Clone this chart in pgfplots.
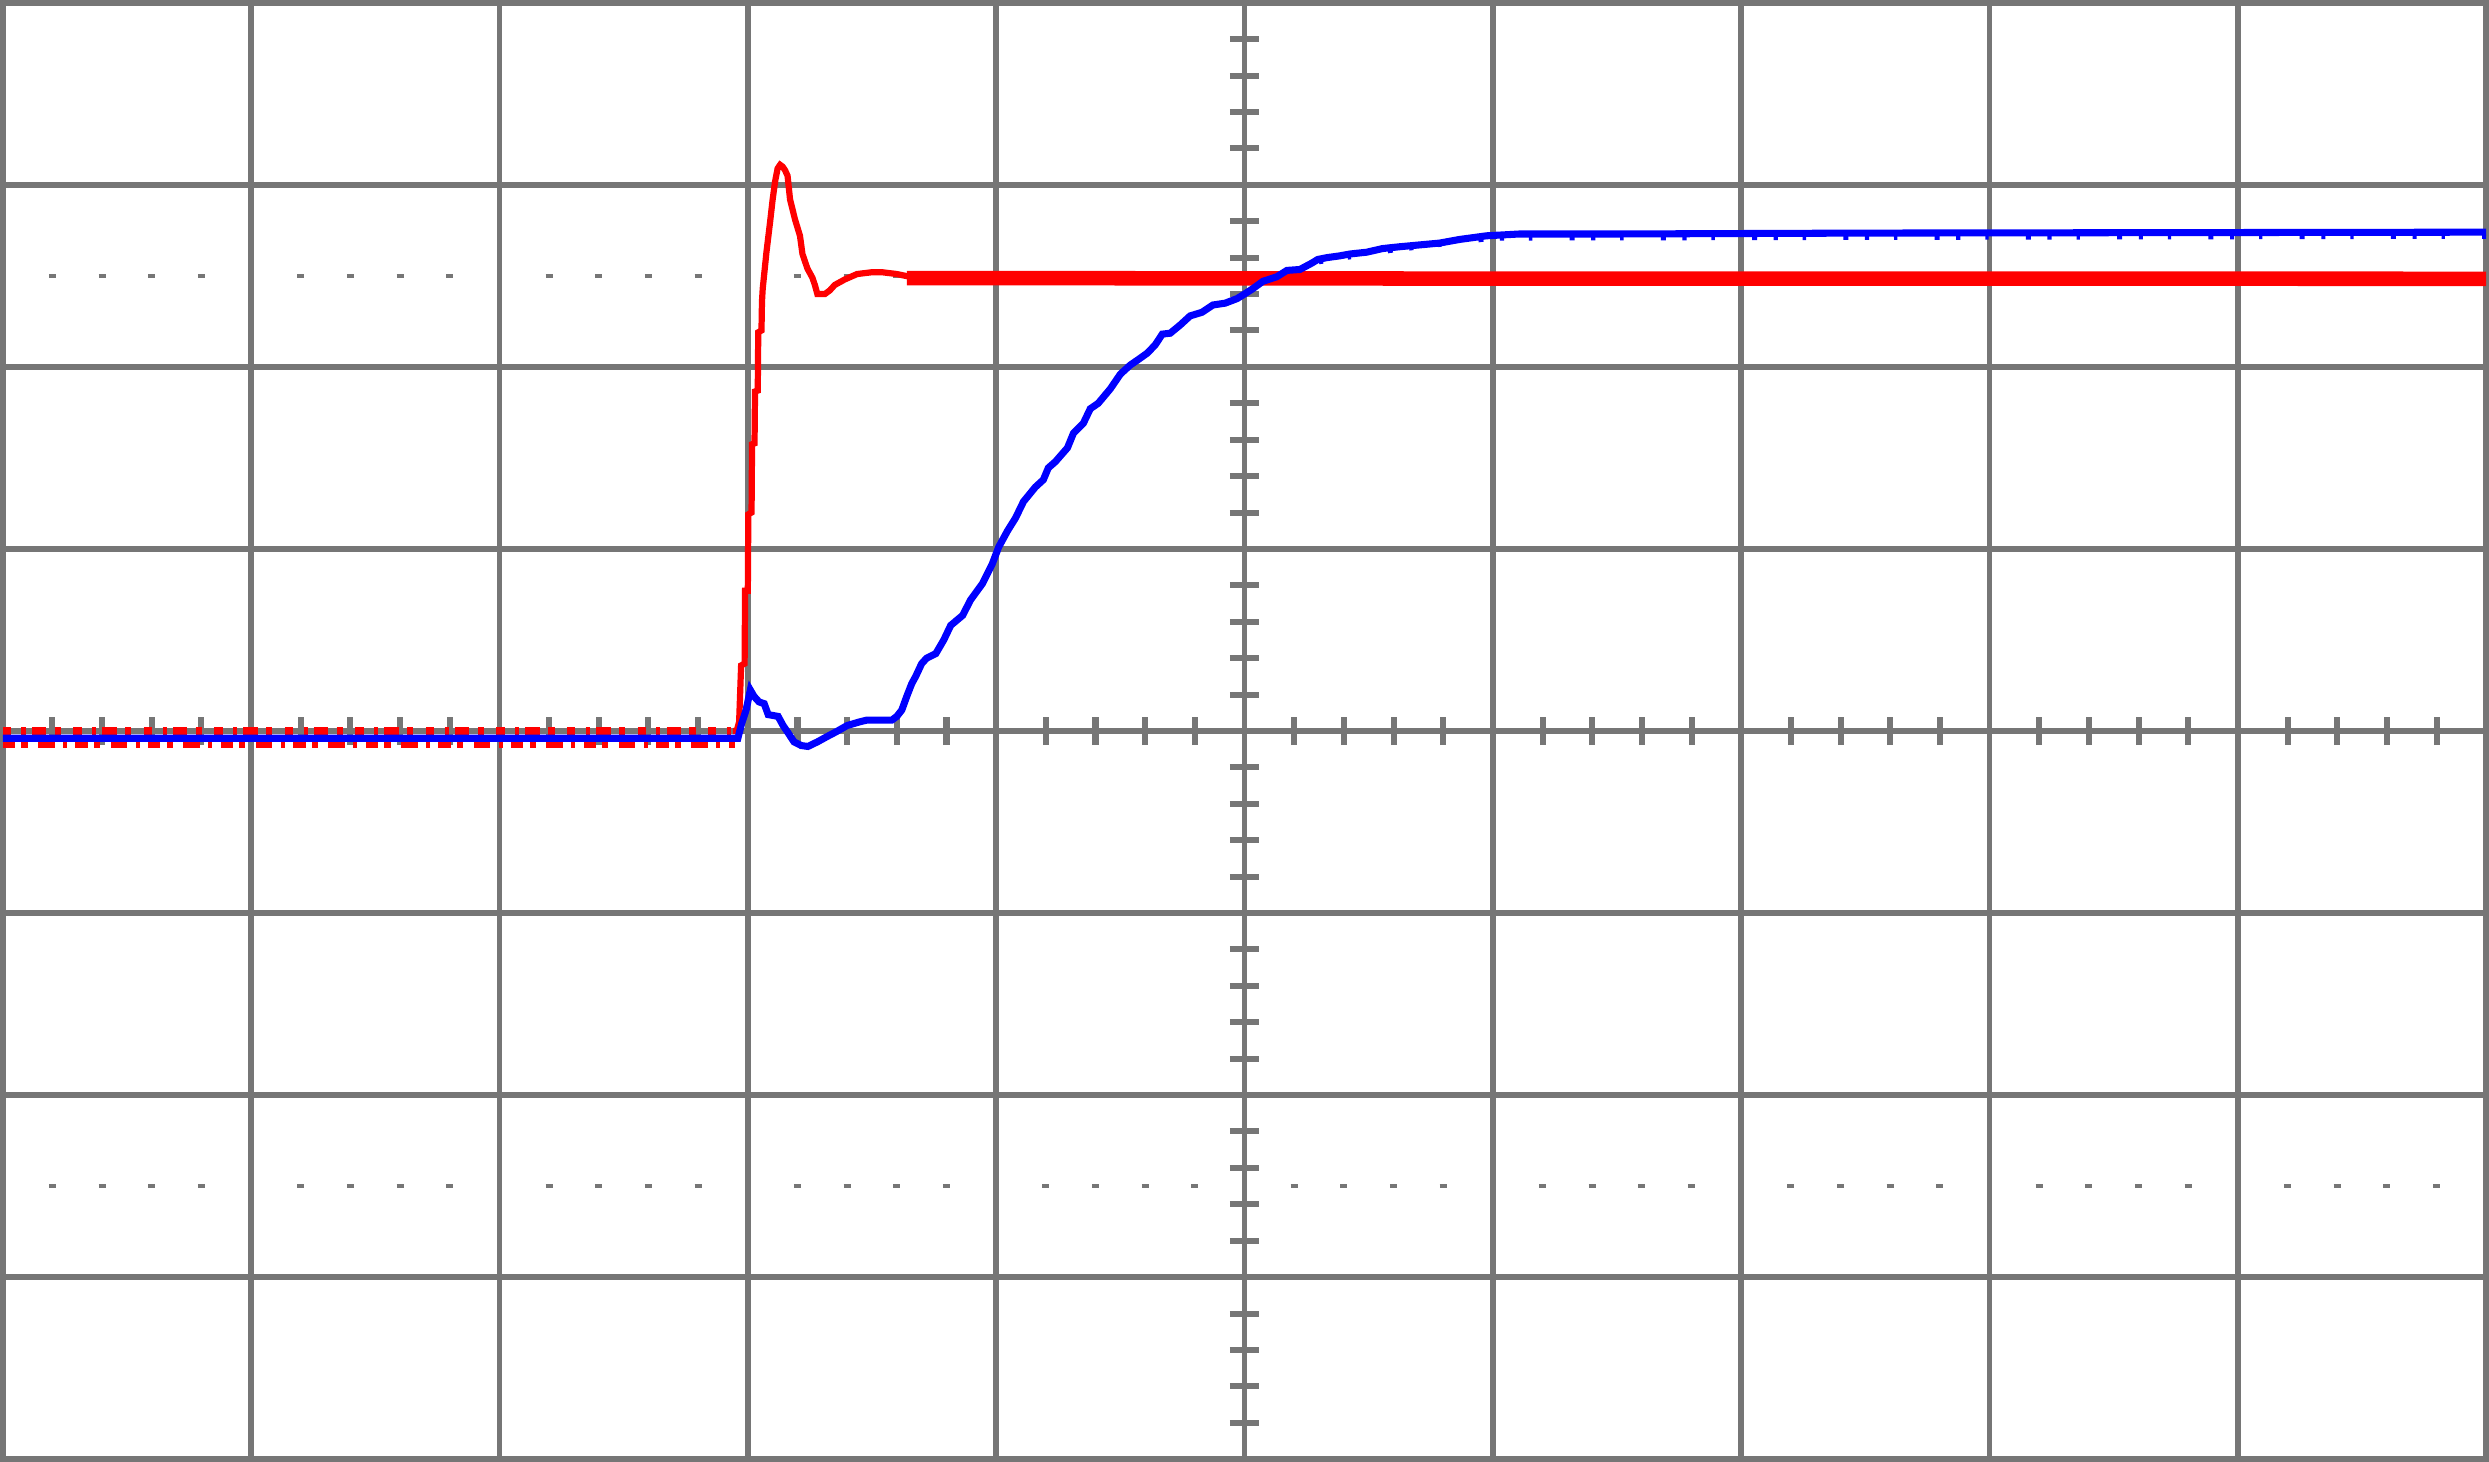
\documentclass[border=0pt]{standalone}
\usepackage{pgfplots}
\pgfplotsset{compat=1.18}
\definecolor{grat}{RGB}{118,118,118}
\definecolor{trred}{RGB}{255,0,0}
\definecolor{trblue}{RGB}{0,0,255}

\begin{document}
\begin{tikzpicture}
\begin{axis}[scale only axis, width=598.65pt, height=351.08pt,
    xmin=-5, xmax=5, ymin=-4, ymax=4,
    xtick={-4,...,4}, ytick={-3,...,3},
    xticklabels={}, yticklabels={}, tick style={draw=none},
    axis line style={grat, line width=1.35pt},
    grid=major, grid style={grat, line width=1.35pt}]
\coordinate (sw) at (rel axis cs:0,0);
\coordinate (ne) at (rel axis cs:1,1);
% graticule: centre lines, minor ticks, dotted levels
\draw[grat, line width=1.35pt] (-5,0) -- (5,0);
\draw[grat, line width=1.35pt] (0,-4) -- (0,4);
\pgfplotsinvokeforeach{-4.8,-4.6,-4.4,-4.2,-3.8,-3.6,-3.4,-3.2,-2.8,-2.6,-2.4,-2.2,-1.8,-1.6,-1.4,-1.2,-0.8,-0.6,-0.4,-0.2,0.2,0.4,0.6,0.8,1.2,1.4,1.6,1.8,2.2,2.4,2.6,2.8,3.2,3.4,3.6,3.8,4.2,4.4,4.6,4.8}{
  \draw[grat, line width=1.45pt] ([yshift=-3.4pt]#1,0) -- ([yshift=3.4pt]#1,0);
  \draw[grat, line width=1pt] ([xshift=-0.85pt]#1,2.5) -- ([xshift=0.85pt]#1,2.5);
  \draw[grat, line width=1pt] ([xshift=-0.85pt]#1,-2.5) -- ([xshift=0.85pt]#1,-2.5);
}
\pgfplotsinvokeforeach{-3.8,-3.6,-3.4,-3.2,-2.8,-2.6,-2.4,-2.2,-1.8,-1.6,-1.4,-1.2,-0.8,-0.6,-0.4,-0.2,0.2,0.4,0.6,0.8,1.2,1.4,1.6,1.8,2.2,2.4,2.6,2.8,3.2,3.4,3.6,3.8}{
  \draw[grat, line width=1.45pt] ([xshift=-3.5pt]0,#1) -- ([xshift=3.5pt]0,#1);
}

% red trace: noisy baseline, step, settled level
\addplot[trred, line width=1.8pt, mark=none, dash pattern=on 2pt off 2.5pt on 1pt off 1.5pt on 3.5pt off 2pt on 1.5pt off 3pt]
  coordinates {(-5,0.0)(-2.05,0.0)};
\addplot[trred, line width=1.7pt, mark=none, dash pattern=on 3pt off 1.5pt on 1.5pt off 2.5pt on 4pt off 2pt on 1pt off 2pt]
  coordinates {(-5,-0.074)(-2.05,-0.074)};
\addplot[trred, line width=1.5pt, mark=none] coordinates {
(-2.06,0.0)(-2.045,0.0)(-2.035,0.05)(-2.027,0.36)(-2.013,0.37)(-2.011,0.77)(-2.000,0.77)
(-1.998,1.19)(-1.985,1.20)(-1.983,1.575)(-1.973,1.58)(-1.971,1.865)(-1.960,1.87)
(-1.958,2.19)(-1.945,2.20)(-1.943,2.36)(-1.94,2.43)(-1.925,2.63)(-1.91,2.80)(-1.90,2.92)
(-1.89,3.02)(-1.88,3.09)(-1.87,3.11)(-1.86,3.10)(-1.85,3.08)(-1.84,3.05)(-1.83,2.92)
(-1.81,2.81)(-1.79,2.72)(-1.78,2.62)(-1.76,2.54)(-1.74,2.49)(-1.73,2.45)(-1.72,2.40)
(-1.69,2.40)(-1.67,2.42)(-1.65,2.45)(-1.61,2.48)(-1.56,2.51)(-1.50,2.52)(-1.46,2.52)
(-1.40,2.51)(-1.33,2.49)(-1.20,2.485)};
\addplot[trred, line width=3.5pt, mark=none] coordinates {(-1.36,2.488)(1,2.485)(5,2.484)};

% blue trace
\addplot[trblue, line width=1.7pt, mark=none] coordinates {
(-5,-0.04)(-2.04,-0.04)(-2.025,0.04)(-2.007,0.115)(-1.99,0.225)(-1.975,0.19)(-1.955,0.16)
(-1.934,0.15)(-1.918,0.09)(-1.878,0.08)(-1.858,0.03)(-1.838,-0.01)(-1.814,-0.06)
(-1.785,-0.08)(-1.758,-0.085)(-1.72,-0.06)(-1.68,-0.03)(-1.645,-0.005)(-1.60,0.03)
(-1.55,0.05)(-1.52,0.06)(-1.42,0.06)(-1.40,0.08)(-1.38,0.115)(-1.36,0.19)(-1.34,0.26)
(-1.324,0.30)(-1.30,0.37)(-1.28,0.40)(-1.243,0.425)(-1.211,0.50)(-1.183,0.58)
(-1.135,0.635)(-1.103,0.72)(-1.055,0.81)(-1.015,0.92)(-0.990,1.01)(-0.954,1.10)
(-0.922,1.17)(-0.890,1.26)(-0.842,1.34)(-0.810,1.38)(-0.790,1.445)(-0.761,1.48)
(-0.713,1.555)(-0.689,1.635)(-0.649,1.69)(-0.621,1.77)(-0.589,1.80)(-0.540,1.88)
(-0.500,1.96)(-0.460,2.01)(-0.428,2.04)(-0.392,2.075)(-0.360,2.12)(-0.331,2.18)
(-0.299,2.185)(-0.259,2.23)(-0.219,2.28)(-0.171,2.30)(-0.127,2.34)(-0.078,2.35)
(-0.030,2.375)(0.0,2.40)(0.034,2.43)(0.074,2.47)(0.130,2.495)(0.171,2.53)(0.223,2.535)
(0.271,2.57)(0.295,2.59)(0.331,2.60)(0.384,2.61)(0.424,2.62)(0.492,2.63)(0.556,2.65)
(0.625,2.66)(0.705,2.67)(0.785,2.68)(0.866,2.70)(0.974,2.72)(1.107,2.73)(1.5,2.73)
(2.5,2.735)(5,2.74)};
\addplot[trblue, line width=1pt, mark=none, dash pattern=on 1pt off 6pt on 0.8pt off 9pt on 1.2pt off 4pt]
  coordinates {(0.3,2.575)(0.6,2.64)(1.0,2.705)(5,2.715)};
\end{axis}
\pgfresetboundingbox
\path ([shift={(-0.675pt,-0.675pt)}]sw) rectangle ([shift={(0.675pt,0.675pt)}]ne);
\end{tikzpicture}
\end{document}
